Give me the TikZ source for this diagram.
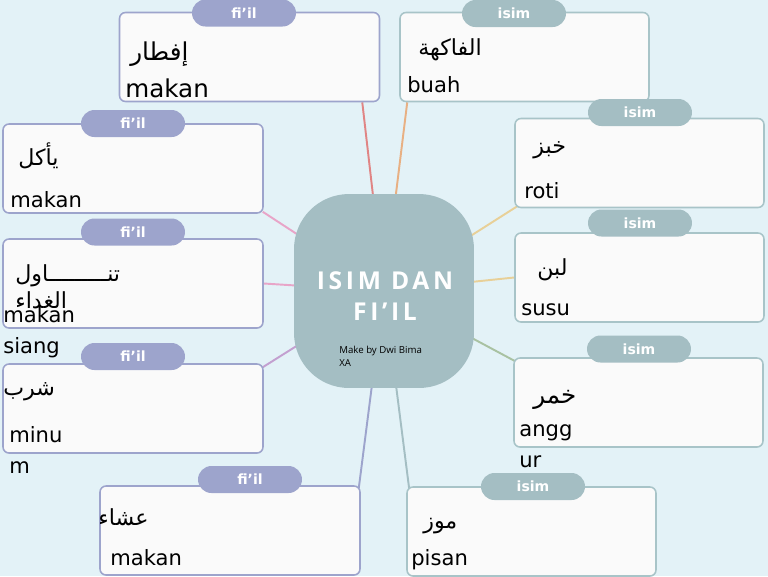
\documentclass[tikz,border=0pt]{standalone}
\usepackage{fontspec}
\setmainfont{DejaVu Sans}
\newfontfamily\arabicfont[Script=Arabic]{DejaVu Sans}
\newfontfamily\titlefont[LetterSpace=15]{Open Sans}
\newfontfamily\signfont{Open Sans}
\TeXXeTstate=1
\usepackage{xcolor}
\definecolor{isim_bg}{HTML}{E3F2F7}
\definecolor{isim_core}{HTML}{A4BEC3}
\definecolor{isim_line}{HTML}{A8C4C8}
\definecolor{fiil_tag}{HTML}{9DA4CC}
\definecolor{card}{HTML}{FAFAFA}
\definecolor{link_red}{HTML}{E08585}
\definecolor{link_orange}{HTML}{E8B083}
\definecolor{link_yellow}{HTML}{E8D098}
\definecolor{link_green}{HTML}{A9C2A2}
\definecolor{link_purple}{HTML}{C3A0D0}
\definecolor{link_pink}{HTML}{E8A5C8}
\usetikzlibrary{calc, backgrounds}

\begin{document}
\begin{tikzpicture}[x=0.02cm, y=-0.02cm,
    core/.style={rectangle, rounded corners=1.1cm, fill=isim_core,
                 minimum width=3.6cm, minimum height=3.88cm},
    fiil/.style={rectangle, rounded corners=0.12cm, draw=fiil_tag, line width=0.9pt,
                 fill=card, minimum width=5.2cm, minimum height=1.78cm},
    isim/.style={fiil, draw=isim_line, minimum width=4.98cm},
    fiiltag/.style={rectangle, rounded corners=0.27cm, fill=fiil_tag, text=white,
                    minimum width=2.08cm, minimum height=0.54cm, inner sep=0pt,
                    font=\bfseries\fontsize{8}{8}\selectfont},
    isimtag/.style={fiiltag, fill=isim_core},
    ara/.style={anchor=base west, inner sep=0pt, align=left,
                font=\arabicfont\fontsize{12.6}{15}\selectfont},
    lat/.style={anchor=base west, inner sep=0pt, align=left,
                font=\fontsize{12}{17.4}\selectfont},
    link/.style={line width=1.1pt},
  ]
    \useasboundingbox (0,0) rectangle (768,576);

    \node[core] (core) at (384,291) {};
    \node[font=\titlefont\bfseries\fontsize{14}{17.6}\selectfont, text=white,
          align=center] (title) at (385,296) {ISIM DAN\\FI’IL};
    \node[font=\signfont\fontsize{5.5}{7.4}\selectfont, align=left,
          anchor=north west, inner sep=0pt] (sign) at (339,346) {Make by Dwi Bima\\XA};

    % fi'il cards
    \foreach \n/\x/\y in {b1/249.5/57, b2/133/168.5, b3/133/283.5, b4/133/408.5, b5/230/530.5}
      \node[fiil] (\n) at (\x,\y) {};
    \foreach \n/\x/\y in {t1/244/13, t2/133/123.5, t3/133/232, t4/133/356.5, t5/250/479.5}
      \node[fiiltag] (\n) at (\x,\y) {fi’il};

    % isim cards
    \foreach \n/\x/\y in {b6/524.5/57, b7/639.5/163, b8/639.5/277.5, b9/638.5/402.5, b10/531.5/531.5}
      \node[isim] (\n) at (\x,\y) {};
    \foreach \n/\x/\y in {t6/514/13.5, t7/640/112.5, t8/640/223, t9/639/349, t10/533/486.5}
      \node[isimtag] (\n) at (\x,\y) {isim};

    \node[ara, font=\arabicfont\fontsize{14}{16}\selectfont] (a1) at (130,60) {\beginR إفطار\endR};
    \node[lat, font=\fontsize{14}{17}\selectfont] (m1) at (125,97) {makan};
    \node[ara] (a2) at (18,165) {\beginR يأكل\endR};
    \node[lat] (m2) at (10,207) {makan};
    \node[ara] (a3) at (15,308) {\beginR تنـــــــــاول\endR\\\beginR الغداء\endR};
    \node[lat] (m3) at (3,353) {makan\\siang};
    \node[ara] (a4) at (3,395) {\beginR شرب\endR};
    \node[lat] (m4) at (9,473) {minu\\m};
    \node[ara] (a5) at (98,525) {\beginR عشاء\endR};
    \node[lat] (m5) at (110,565) {makan};

    \node[ara] (a6) at (418,55) {\beginR الفاكهة\endR};
    \node[lat] (m6) at (407,92) {buah};
    \node[ara] (a7) at (533,153) {\beginR خبز\endR};
    \node[lat] (m7) at (524,198) {roti};
    \node[ara] (a8) at (537,275) {\beginR لبن\endR};
    \node[lat] (m8) at (521,315) {susu};
    \node[ara, font=\arabicfont\fontsize{14}{16}\selectfont] (a9) at (533,403) {\beginR خمر\endR};
    \node[lat] (m9) at (519,467) {angg\\ur};
    \node[ara] (a10) at (423,528) {\beginR موز\endR};
    \node[lat] (m10) at (411,565) {pisan};

    \begin{pgfonlayer}{background}
      \fill[isim_bg] (0,0) rectangle (768,576);
      \draw[link, link_red]    (core.center) -- ($(b1.south east)+(-18,0)$);
      \draw[link, link_orange] (core.center) -- ($(b6.south west)+(8,0)$);
      \draw[link, link_yellow] (core.center) -- ($(b7.south west)+(3,-2)$);
      \draw[link, link_yellow] (core.center) -- (b8.west);
      \draw[link, link_green]  (core.center) -- ($(b9.north west)+(2,4)$);
      \draw[link, isim_core]   (core.center) -- ($(b10.north west)+(3,3)$);
      \draw[link, fiil_tag]    (core.center) -- ($(b5.north east)+(-2,3)$);
      \draw[link, link_purple] (core.center) -- ($(b4.north east)+(-1,4)$);
      \draw[link, link_pink]   (core.center) -- (b3.east);
      \draw[link, link_pink]   (core.center) -- ($(b2.south east)+(-1,-2)$);
    \end{pgfonlayer}
\end{tikzpicture}
\end{document}
